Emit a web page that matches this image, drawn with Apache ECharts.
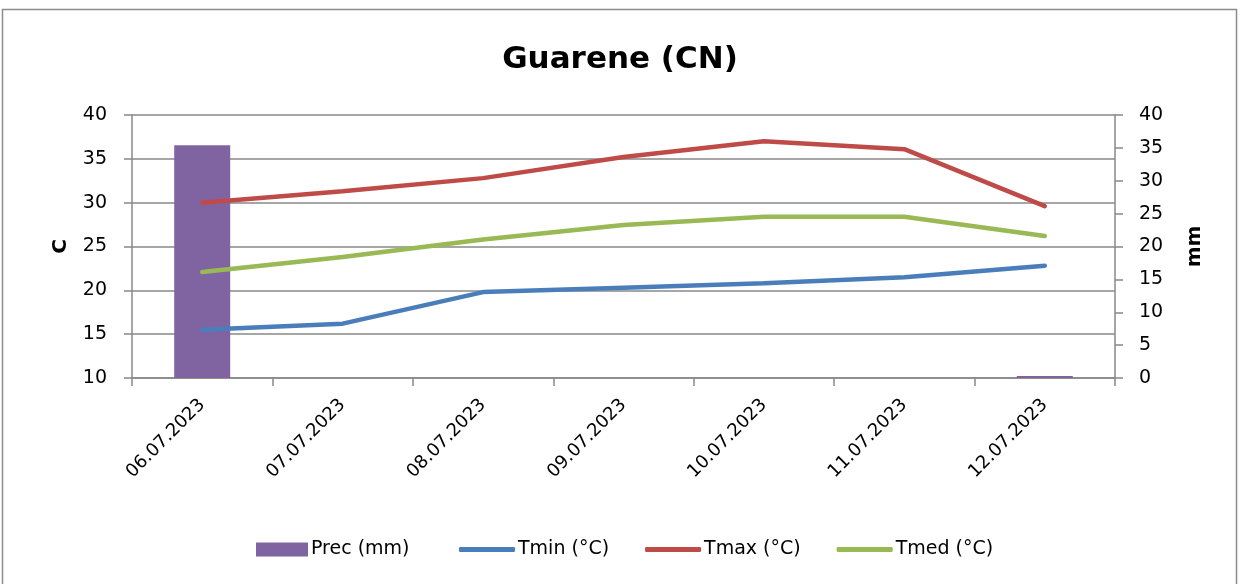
<!DOCTYPE html>
<html>
<head>
<meta charset="utf-8">
<script src="https://cdn.jsdelivr.net/npm/echarts@6/dist/echarts.min.js"></script>
<style>
html,body{margin:0;padding:0;background:#fff;}
#chart{width:1240px;height:584px;}
</style>
</head>
<body>
<div id="chart"></div>
<script>
const categories = ['06.07.2023','07.07.2023','08.07.2023','09.07.2023','10.07.2023','11.07.2023','12.07.2023'];
const prec = [35.4, 0, 0, 0, 0, 0, 0.3];
const tmin = [15.5, 16.2, 19.8, 20.3, 20.8, 21.5, 22.8];
const tmax = [30.0, 31.3, 32.8, 35.2, 37.0, 36.1, 29.6];
const tmed = [22.1, 23.8, 25.8, 27.45, 28.4, 28.4, 26.2];

const FONT = '"DejaVu Sans", sans-serif';
const axisCol = '#888888';
const chart = echarts.init(document.getElementById('chart'), null, {renderer:'canvas'});
chart.setOption({
  animation: false,
  backgroundColor: '#ffffff',
  textStyle: {fontFamily: FONT, color: '#000'},
  title: {
    text: 'Guarene (CN)', left: 'center', top: 39,
    textStyle: {fontFamily: FONT, fontWeight: 'bold', fontSize: 31, color: '#000'}
  },
  graphic: [{
    type: 'rect', silent: true, z: -1,
    shape: {x: 2.5, y: 9.5, width: 1234, height: 620},
    style: {fill: 'none', stroke: '#8c8c8c', lineWidth: 1.5}
  }],
  legend: [{
    left: 251, top: 535, icon: 'rect',
    itemWidth: 52, itemHeight: 14, itemGap: 34,
    textStyle: {fontFamily: FONT, fontSize: 19, color: '#000', padding: [0, 0, 0, -2]},
    data: ['Prec (mm)']
  }, {
    left: 454, top: 535, icon: 'roundRect',
    itemWidth: 56, itemHeight: 5, itemGap: 36,
    textStyle: {fontFamily: FONT, fontSize: 19, color: '#000', padding: [0, 0, 0, -2]},
    data: ['Tmin (°C)', 'Tmax (°C)', 'Tmed (°C)']
  }],
  grid: {left: 132, right: 125, top: 115, bottom: 206, containLabel: false},
  xAxis: {
    type: 'category', data: categories, boundaryGap: true,
    axisLine: {lineStyle: {color: axisCol, width: 1.5}},
    axisTick: {show: true, alignWithLabel: false, length: 8, lineStyle: {color: axisCol, width: 1.5}},
    axisLabel: {rotate: 45, fontSize: 18, color: '#000', fontFamily: FONT, margin: 24, interval: 0}
  },
  yAxis: [{
    type: 'value', min: 10, max: 40, interval: 5, position: 'left',
    name: 'C', nameLocation: 'middle', nameGap: 61, nameRotate: 90,
    nameTextStyle: {fontSize: 20, fontWeight: 'bold', color: '#000', fontFamily: FONT},
    axisLine: {show: true, lineStyle: {color: axisCol, width: 1.5}},
    axisTick: {show: true, length: 8, lineStyle: {color: axisCol, width: 1.5}},
    axisLabel: {fontSize: 19, color: '#000', fontFamily: FONT, margin: 25},
    splitLine: {show: true, lineStyle: {color: axisCol, width: 1.5}}
  }, {
    type: 'value', min: 0, max: 40, interval: 5, position: 'right',
    name: 'mm', nameLocation: 'middle', nameGap: 70, nameRotate: 90,
    nameTextStyle: {fontSize: 20, fontWeight: 'bold', color: '#000', fontFamily: FONT},
    axisLine: {show: true, lineStyle: {color: axisCol, width: 1.5}},
    axisTick: {show: true, length: 8, lineStyle: {color: axisCol, width: 1.5}},
    axisLabel: {fontSize: 19, color: '#000', fontFamily: FONT, margin: 24},
    splitLine: {show: false}
  }],
  series: [{
    name: 'Prec (mm)', type: 'bar', yAxisIndex: 1, data: prec, barWidth: 56,
    itemStyle: {color: '#8064A2'}
  }, {
    name: 'Tmin (°C)', type: 'line', yAxisIndex: 0, data: tmin,
    symbol: 'none', lineStyle: {color: '#4A7EBB', width: 4.5, cap: 'round'}, itemStyle: {color: '#4A7EBB'}
  }, {
    name: 'Tmax (°C)', type: 'line', yAxisIndex: 0, data: tmax,
    symbol: 'none', lineStyle: {color: '#BE4B48', width: 4.5, cap: 'round'}, itemStyle: {color: '#BE4B48'}
  }, {
    name: 'Tmed (°C)', type: 'line', yAxisIndex: 0, data: tmed,
    symbol: 'none', lineStyle: {color: '#98B954', width: 4.5, cap: 'round'}, itemStyle: {color: '#98B954'}
  }]
});
</script>
</body>
</html>
